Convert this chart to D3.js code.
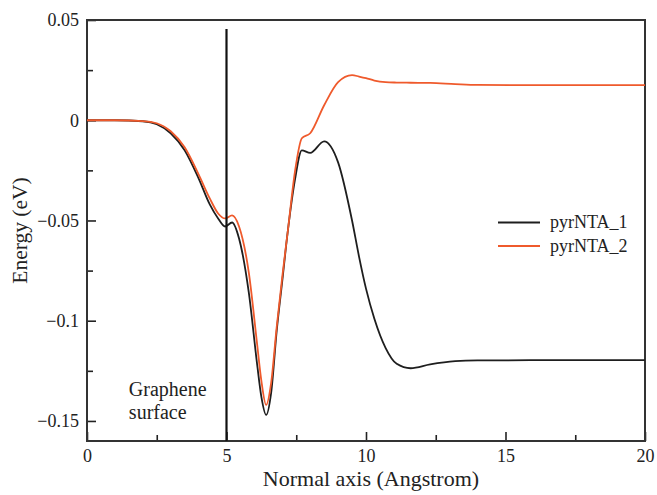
<!DOCTYPE html>
<html>
<head>
<meta charset="utf-8">
<title>Energy vs normal axis</title>
<style>
  body { margin: 0; background: #fff; }
</style>
</head>
<body>
<div id="chart"></div>

<script src="https://d3js.org/d3.v7.min.js" charset="utf-8"></script>
<script>

// distance along the normal axis (Angstrom), shared by both curves
var xVals = [0, 1, 2, 2.5, 3, 3.5, 4, 4.4, 4.7, 4.95, 5.2, 5.45, 5.8, 6.1, 6.25, 6.42, 6.6, 6.8, 7.0, 7.2,
             7.45, 7.7, 8.0, 8.5, 9.0, 9.5, 9.75, 10, 10.3, 10.7, 11.1, 11.6, 12.3, 13.2, 14, 16, 18, 20];

// energy (eV)
var pyrNTA_1 = [0, 0, -0.0005, -0.002, -0.0065, -0.015, -0.029, -0.042, -0.049, -0.053, -0.051, -0.059, -0.086, -0.122, -0.138, -0.147, -0.136, -0.105, -0.08, -0.055,
                -0.03, -0.015, -0.0163, -0.0105, -0.021, -0.05, -0.068, -0.084, -0.099, -0.1135, -0.1215, -0.1237, -0.1218, -0.1202, -0.1198, -0.1197, -0.1197, -0.1197];
var pyrNTA_2 = [0, 0, -0.0004, -0.0015, -0.0055, -0.0135, -0.027, -0.039, -0.0465, -0.049, -0.0475, -0.053, -0.076, -0.112, -0.13, -0.142, -0.131, -0.103, -0.078, -0.055,
                -0.026, -0.009, -0.0065, 0.0075, 0.019, 0.0225, 0.0218, 0.021, 0.0198, 0.019, 0.0188, 0.0187, 0.0186, 0.018, 0.0176, 0.0175, 0.0175, 0.0175];

var seriesNames = ["pyrNTA_1", "pyrNTA_2"];
var seriesColors = ["#1e1e1e", "#ef5a2c"];

var xTicks = [0, 5, 10, 15, 20];
var xMinor = [2.5, 7.5, 12.5, 17.5];
var yTicks = [0.05, 0, -0.05, -0.1, -0.15];
var yMinor = [0.025, -0.025, -0.075, -0.125];

// graphene surface marker
var surfaceX = 5;
var surfaceTop = 0.0455;
var surfaceLabel = ["Graphene", "surface"];

var serif = "'Liberation Serif', 'Times New Roman', Times, serif";

var w = 657, h = 495;
var margin = {top: 20, right: 12, bottom: 54, left: 87};
var iw = w - margin.left - margin.right,
    ih = h - margin.top - margin.bottom;

var svg = d3.select("#chart").append("svg")
    .attr("width", w).attr("height", h)
    .attr("font-family", serif);

var g = svg.append("g")
    .attr("transform", "translate(" + margin.left + "," + margin.top + ")");

var x = d3.scaleLinear().domain([0, 20]).range([0, iw]);
var y = d3.scaleLinear().domain([-0.16, 0.05]).range([ih, 0]);

var fmt = d3.format("~g");

// minor ticks first, then major ones with labels
g.append("g").attr("transform", "translate(0," + ih + ")")
    .call(d3.axisBottom(x).tickValues(xMinor).tickSize(-6).tickFormat(""))
    .call(function(s) { s.select(".domain").remove(); });
g.append("g")
    .call(d3.axisLeft(y).tickValues(yMinor).tickSize(-6).tickFormat(""))
    .call(function(s) { s.select(".domain").remove(); });

var xAxis = g.append("g").attr("transform", "translate(0," + ih + ")")
    .call(d3.axisBottom(x).tickValues(xTicks).tickSize(-9).tickPadding(8).tickFormat(fmt));
xAxis.select(".domain").remove();

var yAxis = g.append("g")
    .call(d3.axisLeft(y).tickValues(yTicks).tickSize(-9).tickPadding(8).tickFormat(fmt));
yAxis.select(".domain").remove();

g.selectAll(".tick text")
    .attr("font-family", serif)
    .attr("font-size", 18)
    .attr("fill", "#222");
g.selectAll(".tick line").attr("stroke", "#222").attr("stroke-width", 1.6);

// frame
g.append("rect")
    .attr("x", 0).attr("y", 0).attr("width", iw).attr("height", ih)
    .attr("fill", "none").attr("stroke", "#333").attr("stroke-width", 2);

var data = [pyrNTA_1, pyrNTA_2];

var line = d3.line()
    .x(function(d, i) { return x(xVals[i]); })
    .y(function(d) { return y(d); })
    .curve(d3.curveMonotoneX);

g.selectAll("path.curve")
    .data(data)
    .enter()
    .append("path")
    .attr("class", "curve")
    .attr("d", line)
    .attr("fill", "none")
    .attr("stroke", function(d, i) { return seriesColors[i]; })
    .attr("stroke-width", 1.8);

// vertical graphene surface line
g.append("line")
    .attr("x1", x(surfaceX)).attr("x2", x(surfaceX))
    .attr("y1", y(surfaceTop)).attr("y2", ih)
    .attr("stroke", "#111").attr("stroke-width", 2.2);

g.append("text")
    .attr("x", x(1.5)).attr("y", y(-0.1375))
    .attr("font-size", 20)
    .attr("fill", "#222")
    .selectAll("tspan")
    .data(surfaceLabel)
    .enter()
    .append("tspan")
    .attr("x", x(1.5))
    .attr("dy", function(d, i) { return i == 0 ? 0 : 23; })
    .text(function(d) { return d; });

// legend
var leg = g.selectAll("g.legend")
    .data(seriesNames)
    .enter()
    .append("g")
    .attr("class", "legend")
    .attr("transform", function(d, i) { return "translate(" + (498 - margin.left) + "," + (222.5 - margin.top + i * 23.5) + ")"; });

leg.append("line")
    .attr("x1", 0).attr("x2", 42)
    .attr("stroke", function(d, i) { return seriesColors[i]; })
    .attr("stroke-width", 1.8);

leg.append("text")
    .attr("x", 52).attr("dy", "0.33em")
    .attr("font-size", 18)
    .attr("fill", "#222")
    .text(function(d) { return d; });

// axis titles
svg.append("text")
    .attr("x", 371).attr("y", 486)
    .attr("text-anchor", "middle")
    .attr("font-size", 22)
    .attr("fill", "#222")
    .text("Normal axis (Angstrom)");

svg.append("text")
    .attr("transform", "translate(27," + (margin.top + ih / 2) + ") rotate(-90)")
    .attr("text-anchor", "middle")
    .attr("font-size", 21.5)
    .attr("fill", "#222")
    .text("Energy (eV)");

</script>
</body>
</html>
